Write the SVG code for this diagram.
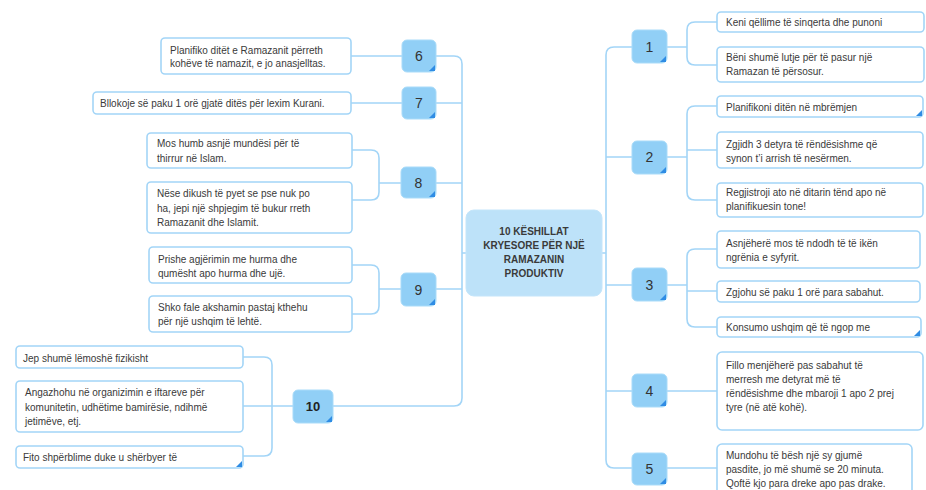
<svg xmlns="http://www.w3.org/2000/svg" width="926" height="490" viewBox="0 0 926 490">
<style>
.bg{fill:#ffffff}
.con{fill:none;stroke:#a3d5f7;stroke-width:1.6}
.num{fill:#91cff6;stroke:#a9dbf9;stroke-width:1}
.numt{font-family:"Liberation Sans",Arial,sans-serif;font-size:14px;fill:#333;text-anchor:middle}
.numb{font-family:"Liberation Sans",Arial,sans-serif;font-size:13px;font-weight:bold;fill:#222;text-anchor:middle}
.box{fill:#ffffff;stroke:#a3d5f7;stroke-width:1.6}
.t{font-family:"Liberation Sans",Arial,sans-serif;font-size:10px;fill:#3a3a3a}
.ctr{fill:#bde2f9;stroke:#c4e5fa;stroke-width:1}
.ct{font-family:"Liberation Sans",Arial,sans-serif;font-size:10px;font-weight:bold;fill:#3a3a3a;text-anchor:middle}
.tri{fill:#2f8ce4}
</style>
<rect class="bg" x="0" y="0" width="926" height="490"/>
<g id="connectors">
<path class="con" d="M602 253H606M632 47H614Q606 47 606 55V460Q606 468 614 468H632M606 157H632M606 285H632M606 391H632"/>
<path class="con" d="M667 47H687M717 22H695Q687 22 687 30V57Q687 65 695 65H717"/>
<path class="con" d="M667 157H687M717 106H695Q687 106 687 114V192Q687 200 695 200H717M687 150H717"/>
<path class="con" d="M667 285H687M717 249H695Q687 249 687 257V319Q687 327 695 327H717M687 291H717"/>
<path class="con" d="M667 391H717M667 468H717"/>
<path class="con" d="M466 253H462M436 56H454Q462 56 462 64V398Q462 406 454 406H333M436 103H462M436 183H462M436 289H462"/>
<path class="con" d="M351 56H402M351 103H402"/>
<path class="con" d="M401 183H379M352 150H371Q379 150 379 158V192Q379 200 371 200H352"/>
<path class="con" d="M401 289H379M352 265H371Q379 265 379 273V306Q379 314 371 314H352"/>
<path class="con" d="M293 406H243M243 357H264Q272 357 272 365V448Q272 456 264 456H243"/>
</g>
<g id="center">
<rect class="ctr" x="466" y="210" width="136" height="86" rx="8"/>
<text class="ct" x="534" y="234.5">10 KËSHILLAT</text>
<text class="ct" x="534" y="248.5">KRYESORE PËR NJË</text>
<text class="ct" x="534" y="262.5">RAMAZANIN</text>
<text class="ct" x="534" y="276.5">PRODUKTIV</text>
</g>
<g id="n1">
<rect class="num" x="632" y="30" width="35" height="33" rx="5"/>
<path class="tri" d="M666 56V62H660Z"/>
<text class="numt" x="649.5" y="52">1</text>
</g>
<g id="n1a"><rect class="box" x="717" y="12" width="207" height="20" rx="4"/><text class="t" x="726" y="26">Keni qëllime të sinqerta dhe punoni</text></g>
<g id="n1b"><rect class="box" x="717" y="47" width="207" height="35" rx="4"/><text class="t" x="726" y="60.5">Bëni shumë lutje për të pasur një</text><text class="t" x="726" y="74.5">Ramazan të përsosur.</text></g>
<g id="n2">
<rect class="num" x="632" y="141" width="35" height="33" rx="5"/>
<path class="tri" d="M666 167V173H660Z"/>
<text class="numt" x="649.5" y="162">2</text>
</g>
<g id="n2a"><rect class="box" x="717" y="96" width="206" height="21" rx="4"/><path class="tri" d="M922 110V116H916Z"/><text class="t" x="726" y="110.5">Planifikoni ditën në mbrëmjen</text></g>
<g id="n2b"><rect class="box" x="717" y="132" width="206" height="36" rx="4"/><text class="t" x="726" y="147.5">Zgjidh 3 detyra të rëndësishme që</text><text class="t" x="726" y="161.5">synon t’i arrish të nesërmen.</text></g>
<g id="n2c"><rect class="box" x="717" y="183" width="206" height="34" rx="4"/><text class="t" x="726" y="195.5">Regjistroji ato në ditarin tënd apo në</text><text class="t" x="726" y="209.5">planifikuesin tone!</text></g>
<g id="n3">
<rect class="num" x="632" y="268" width="35" height="33" rx="5"/>
<path class="tri" d="M666 294V300H660Z"/>
<text class="numt" x="649.5" y="290">3</text>
</g>
<g id="n3a"><rect class="box" x="717" y="231" width="203" height="37" rx="4"/><text class="t" x="726" y="246.5">Asnjëherë mos të ndodh të të ikën</text><text class="t" x="726" y="260.5">ngrënia e syfyrit.</text></g>
<g id="n3b"><rect class="box" x="717" y="281" width="203" height="21" rx="4"/><text class="t" x="726" y="295.5">Zgjohu së paku 1 orë para sabahut.</text></g>
<g id="n3c"><rect class="box" x="717" y="317" width="204" height="20" rx="4"/><path class="tri" d="M920 330V336H914Z"/><text class="t" x="726" y="330.5">Konsumo ushqim që të ngop me</text></g>
<g id="n4">
<rect class="num" x="632" y="374" width="35" height="33" rx="5"/>
<path class="tri" d="M666 400V406H660Z"/>
<text class="numt" x="649.5" y="396">4</text>
</g>
<g id="n4a"><rect class="box" x="717" y="352" width="206" height="78" rx="5"/><text class="t" x="726" y="368.5">Fillo menjëherë pas sabahut të</text><text class="t" x="726" y="382.5">merresh me detyrat më të</text><text class="t" x="726" y="396.5">rëndësishme dhe mbaroji 1 apo 2 prej</text><text class="t" x="726" y="410.5">tyre (në atë kohë).</text></g>
<g id="n5">
<rect class="num" x="632" y="453" width="35" height="32" rx="5"/>
<path class="tri" d="M666 478V484H660Z"/>
<text class="numt" x="649.5" y="474">5</text>
</g>
<g id="n5a"><rect class="box" x="717" y="444" width="195" height="52" rx="5"/><text class="t" x="726" y="458.5">Mundohu të bësh një sy gjumë</text><text class="t" x="726" y="472.5">pasdite, jo më shumë se 20 minuta.</text><text class="t" x="726" y="486.5">Qoftë kjo para dreke apo pas drake.</text></g>
<g id="n6">
<rect class="num" x="402" y="40" width="34" height="32" rx="5"/>
<path class="tri" d="M435 65V71H429Z"/>
<text class="numt" x="419" y="61">6</text>
</g>
<g id="n6a"><rect class="box" x="161" y="38" width="190" height="36" rx="4"/><text class="t" x="170" y="53.5">Planifiko ditët e Ramazanit përreth</text><text class="t" x="170" y="67">kohëve të namazit, e jo anasjelltas.</text></g>
<g id="n7">
<rect class="num" x="402" y="87" width="34" height="32" rx="5"/>
<path class="tri" d="M435 112V118H429Z"/>
<text class="numt" x="419" y="108">7</text>
</g>
<g id="n7a"><rect class="box" x="93" y="92" width="258" height="22" rx="4"/><text class="t" x="100" y="107">Bllokoje së paku 1 orë gjatë ditës për lexim Kurani.</text></g>
<g id="n8">
<rect class="num" x="401" y="167" width="35" height="31" rx="5"/>
<path class="tri" d="M435 191V197H429Z"/>
<text class="numt" x="418.5" y="188">8</text>
</g>
<g id="n8a"><rect class="box" x="147" y="133" width="205" height="35" rx="4"/><text class="t" x="157" y="146.5">Mos humb asnjë mundësi për të</text><text class="t" x="157" y="161.5">thirrur në Islam.</text></g>
<g id="n8b"><rect class="box" x="147" y="182" width="205" height="51" rx="4"/><text class="t" x="157" y="196.5">Nëse dikush të pyet se pse nuk po</text><text class="t" x="157" y="211.5">ha, jepi një shpjegim të bukur rreth</text><text class="t" x="157" y="225.5">Ramazanit dhe Islamit.</text></g>
<g id="n9">
<rect class="num" x="401" y="273" width="35" height="33" rx="5"/>
<path class="tri" d="M435 299V305H429Z"/>
<text class="numt" x="418.5" y="295">9</text>
</g>
<g id="n9a"><rect class="box" x="149" y="247" width="203" height="36" rx="4"/><text class="t" x="158" y="262.5">Prishe agjërimin me hurma dhe</text><text class="t" x="158" y="276.5">qumësht apo hurma dhe ujë.</text></g>
<g id="n9b"><rect class="box" x="149" y="296" width="203" height="36" rx="4"/><text class="t" x="158" y="310.5">Shko fale akshamin pastaj kthehu</text><text class="t" x="158" y="324.5">për një ushqim të lehtë.</text></g>
<g id="n10">
<rect class="num" x="293" y="390" width="40" height="33" rx="5"/>
<path class="tri" d="M332 416V422H326Z"/>
<text class="numb" x="313" y="411">10</text>
</g>
<g id="n10a"><rect class="box" x="16" y="346" width="227" height="22" rx="4"/><text class="t" x="23" y="361.5">Jep shumë lëmoshë fizikisht</text></g>
<g id="n10b"><rect class="box" x="16" y="381" width="227" height="51" rx="4"/><text class="t" x="25" y="395.5">Angazhohu në organizimin e iftareve për</text><text class="t" x="25" y="410.5">komunitetin, udhëtime bamirësie, ndihmë</text><text class="t" x="25" y="424.5">jetimëve, etj.</text></g>
<g id="n10c"><rect class="box" x="16" y="446" width="227" height="22" rx="4"/><path class="tri" d="M242 461V467H236Z"/><text class="t" x="23" y="460.5">Fito shpërblime duke u shërbyer të</text></g>
</svg>
